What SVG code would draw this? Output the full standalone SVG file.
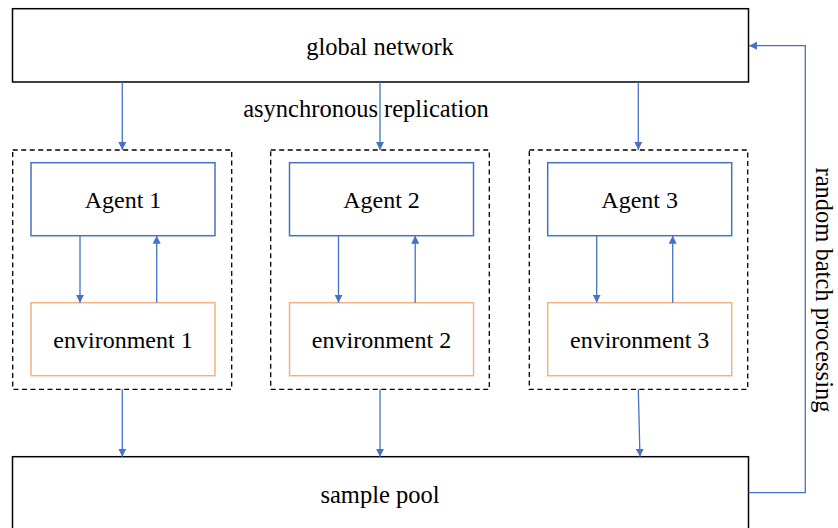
<svg xmlns="http://www.w3.org/2000/svg" width="838" height="528" viewBox="0 0 838 528">
<defs>
<marker id="ah" markerWidth="8" markerHeight="8" refX="8" refY="4" orient="auto" markerUnits="userSpaceOnUse">
<path d="M0,0 L8,4 L0,8 Z" fill="#4472C4"/>
</marker>
</defs>
<style>
.main{fill:#fff;stroke:#000;stroke-width:1.5}
.grp{fill:none;stroke:#000;stroke-width:1.3;stroke-dasharray:5,3.5}
.agent{fill:#fff;stroke:#4472C4;stroke-width:1.5}
.env{fill:#fff;stroke:#F4B183;stroke-width:1.5}
.c{fill:none;stroke:#4472C4;stroke-width:1.3;marker-end:url(#ah)}
</style>
<rect width="838" height="528" fill="#fff"/>
<g id="global-network"><rect class="main" x="12.5" y="8.7" width="736" height="73.3"/><text x="380" y="55" font-family="'Liberation Serif', serif" font-size="24.5" text-anchor="middle">global network</text></g>
<g id="sample-pool"><rect class="main" x="12.5" y="456.7" width="736" height="80"/><text x="380" y="502.7" font-family="'Liberation Serif', serif" font-size="24.5" text-anchor="middle">sample pool</text></g>
<g id="group1"><rect class="grp" x="12.7" y="150" width="219" height="239.3"/></g>
<g id="group2"><rect class="grp" x="270.7" y="150" width="218.6" height="239.3"/></g>
<g id="group3"><rect class="grp" x="529.3" y="150" width="218.4" height="239.3"/></g>
<g id="agent1"><rect class="agent" x="31" y="162.7" width="184" height="73"/><text x="123" y="208.3" font-family="'Liberation Serif', serif" font-size="24" text-anchor="middle">Agent 1</text></g>
<g id="agent2"><rect class="agent" x="289.5" y="162.7" width="184" height="73"/><text x="381.5" y="208.3" font-family="'Liberation Serif', serif" font-size="24" text-anchor="middle">Agent 2</text></g>
<g id="agent3"><rect class="agent" x="547.7" y="162.7" width="184" height="73"/><text x="639.7" y="208.3" font-family="'Liberation Serif', serif" font-size="24" text-anchor="middle">Agent 3</text></g>
<g id="env1"><rect class="env" x="31" y="302.7" width="184" height="73"/><text x="123" y="348.3" font-family="'Liberation Serif', serif" font-size="24" text-anchor="middle">environment 1</text></g>
<g id="env2"><rect class="env" x="289.5" y="302.7" width="184" height="73"/><text x="381.5" y="348.3" font-family="'Liberation Serif', serif" font-size="24" text-anchor="middle">environment 2</text></g>
<g id="env3"><rect class="env" x="547.7" y="302.7" width="184" height="73"/><text x="639.7" y="348.3" font-family="'Liberation Serif', serif" font-size="24" text-anchor="middle">environment 3</text></g>
<g id="labels">
<text x="366" y="117" font-family="'Liberation Serif', serif" font-size="24.5" text-anchor="middle">asynchronous replication</text>
<text transform="translate(816,290) rotate(90)" font-family="'Liberation Serif', serif" font-size="24.5" text-anchor="middle">random batch processing</text>
</g>
<g id="connectors">
<line class="c" x1="122.3" y1="82" x2="122.3" y2="150"/>
<line class="c" x1="380" y1="82" x2="380" y2="150"/>
<line class="c" x1="638.3" y1="82" x2="638.3" y2="150"/>
<line class="c" x1="80" y1="235.7" x2="80" y2="302.7"/>
<line class="c" x1="156.7" y1="302.7" x2="156.7" y2="235.7"/>
<line class="c" x1="338.5" y1="235.7" x2="338.5" y2="302.7"/>
<line class="c" x1="415.2" y1="302.7" x2="415.2" y2="235.7"/>
<line class="c" x1="596.7" y1="235.7" x2="596.7" y2="302.7"/>
<line class="c" x1="672.7" y1="302.7" x2="672.7" y2="235.7"/>
<line class="c" x1="122.3" y1="389.3" x2="122.3" y2="456.7"/>
<line class="c" x1="380" y1="389.3" x2="380" y2="456.7"/>
<line class="c" x1="638.3" y1="389.3" x2="640" y2="456.7"/>
<polyline class="c" points="748.5,492.7 805.3,492.7 805.3,45.7 749,45.7"/>
</g>
</svg>
